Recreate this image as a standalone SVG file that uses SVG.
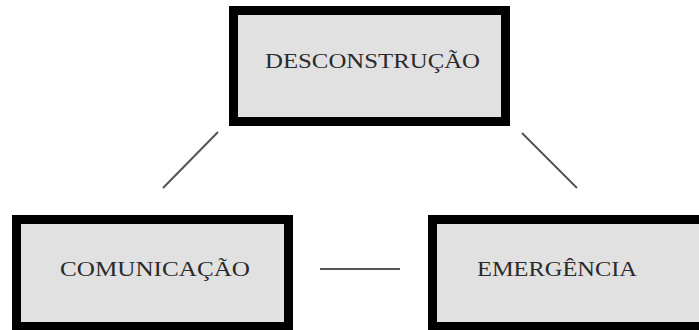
<svg xmlns="http://www.w3.org/2000/svg" width="699" height="330" viewBox="0 0 699 330">
<style>
.box{fill:#e1e1e1;stroke:#000;stroke-width:9}
.lbl{font-family:"Liberation Serif","Times New Roman",serif;font-size:20px;fill:#2a2a2a;text-anchor:middle}
.conn{stroke:#555;stroke-width:2;fill:none}
</style>
<rect width="699" height="330" fill="#fff"/>
<g id="desconstrucao">
<rect class="box" x="233.5" y="10.5" width="272" height="111"/>
<text class="lbl" x="372.5" y="68" textLength="215" lengthAdjust="spacingAndGlyphs">DESCONSTRUÇÃO</text>
</g>
<g id="comunicacao">
<rect class="box" x="16.5" y="219.5" width="272" height="107"/>
<text class="lbl" x="155" y="276" textLength="190" lengthAdjust="spacingAndGlyphs">COMUNICAÇÃO</text>
</g>
<g id="emergencia">
<rect class="box" x="432.5" y="219.5" width="280" height="107"/>
<text class="lbl" x="557" y="276" textLength="160" lengthAdjust="spacingAndGlyphs">EMERGÊNCIA</text>
</g>
<g id="connectors">
<line class="conn" x1="218" y1="132" x2="163" y2="188"/>
<line class="conn" x1="522" y1="133" x2="577" y2="188"/>
<line class="conn" x1="320" y1="269" x2="400" y2="269"/>
</g>
</svg>
